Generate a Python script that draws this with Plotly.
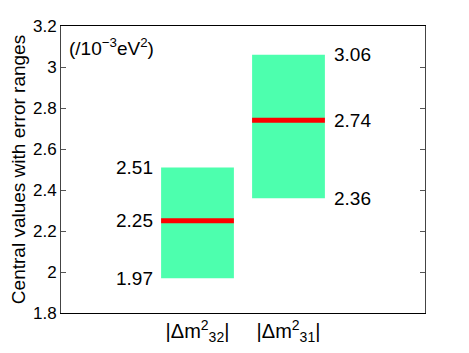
import plotly.graph_objects as go

# mass splittings, in units of 1e-3 eV^2
labels = ["|Δm<sup>2</sup><sub>32</sub>|", "|Δm<sup>2</sup><sub>31</sub>|"]
pos = [1, 2]
low = [1.97, 2.36]
central = [2.25, 2.74]
high = [2.51, 3.06]

w = 0.8
font = "Liberation Sans, Arial, sans-serif"

fig = go.Figure()
fig.add_trace(go.Bar(x=pos, y=[h - l for h, l in zip(high, low)], base=low, width=w,
                     marker=dict(color="#4dffae", line=dict(width=0)), showlegend=False))
for p, c in zip(pos, central):
    fig.add_trace(go.Scatter(x=[p - w / 2, p + w / 2], y=[c, c], mode="lines",
                             line=dict(color="#ff0000", width=5), showlegend=False))

# value labels: left of first box, right of second box
for v in (high[0], central[0], low[0]):
    fig.add_annotation(x=pos[0] - w / 2, y=v, text=f"{v:.2f}", showarrow=False,
                       xanchor="right", xshift=-6, font=dict(size=19, color="black"))
for v in (high[1], central[1], low[1]):
    fig.add_annotation(x=pos[1] + w / 2, y=v, text=f"{v:.2f}", showarrow=False,
                       xanchor="left", xshift=7, font=dict(size=19, color="black"))

fig.add_annotation(x=0, y=1, xref="paper", yref="paper", xanchor="left", yanchor="top",
                   xshift=6, yshift=-7, showarrow=False,
                   text="(/10<sup>−3</sup>eV<sup>2</sup>)", font=dict(size=19, color="black"))

# page body has an 8px margin, so the figure is drawn a bit smaller
fig.update_layout(
    width=461, height=345,
    margin=dict(l=53, r=44, t=18, b=40),
    plot_bgcolor="white", paper_bgcolor="white",
    font=dict(family=font, color="black", size=17),
    xaxis=dict(range=[-0.5, 3.5], tickvals=pos, ticktext=labels, showgrid=False,
               zeroline=False, showline=True, linecolor="black", mirror=True,
               ticks="", tickfont=dict(size=20), automargin=False),
    yaxis=dict(range=[1.8, 3.2], dtick=0.2, showgrid=False, zeroline=False,
               showline=True, linecolor="#444", mirror="ticks", ticks="inside",
               ticklen=5, tickcolor="#555", tickfont=dict(size=17), automargin=False,
               title=dict(text="Central values with error ranges", font=dict(size=19), standoff=5)),
)

fig.write_html("out.html")
